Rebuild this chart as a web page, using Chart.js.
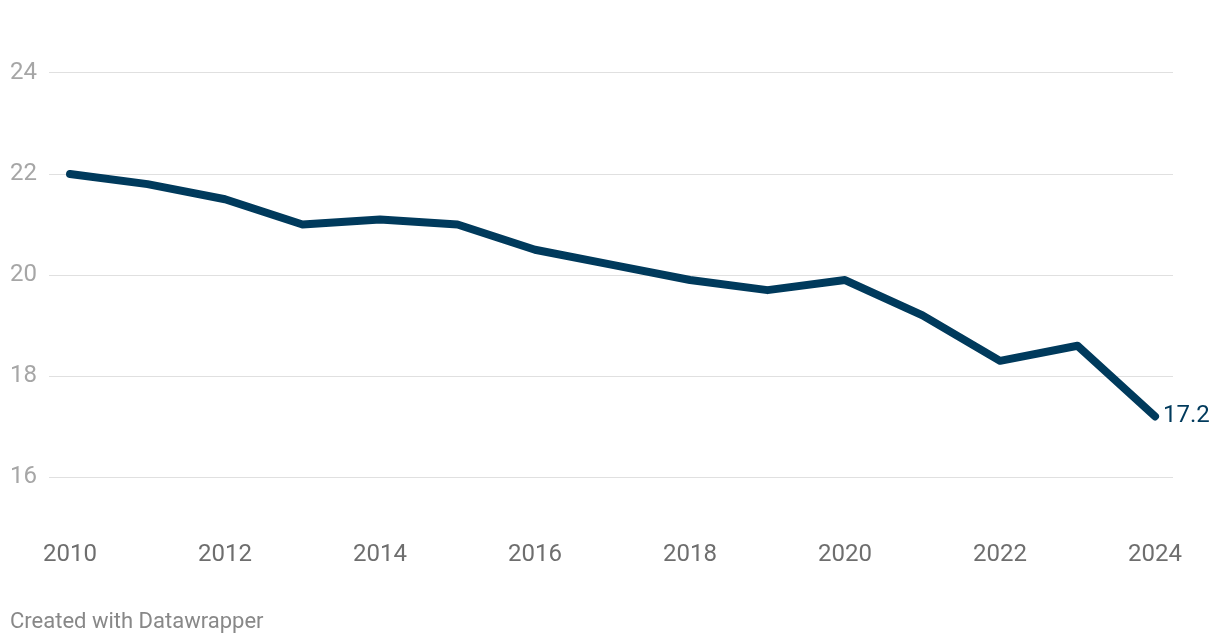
<!DOCTYPE html>
<html>
<head>
<meta charset="utf-8">
<script src="https://cdn.jsdelivr.net/npm/chart.js@4/dist/chart.umd.min.js"></script>
<style>
  html, body { margin: 0; padding: 0; background: #ffffff; }
  #wrap { width: 1220px; height: 644px; position: relative; }
</style>
</head>
<body>
<div id="wrap"><canvas id="c" width="1220" height="644"></canvas></div>
<script>
// ---- data ----
const years = [2010, 2011, 2012, 2013, 2014, 2015, 2016, 2017, 2018, 2019, 2020, 2021, 2022, 2023, 2024];
const values = [22.0, 21.8, 21.5, 21.0, 21.1, 21.0, 20.5, 20.2, 19.9, 19.7, 19.9, 19.2, 18.3, 18.6, 17.2];
const xTickLabels = [2010, 2012, 2014, 2016, 2018, 2020, 2022, 2024];
const yTickLabels = [16, 18, 20, 22, 24];
const footerText = 'Created with Datawrapper';

const lineColor = '#003a5c';
const fontFamily = 'Roboto, "Noto Sans", sans-serif';

const endLabelPlugin = {
  id: 'endLabel',
  afterDatasetsDraw(chart) {
    const ctx = chart.ctx;
    const meta = chart.getDatasetMeta(0);
    const last = meta.data[meta.data.length - 1];
    const v = values[values.length - 1];
    ctx.save();
    ctx.font = '24px ' + fontFamily;
    ctx.fillStyle = lineColor;
    ctx.textAlign = 'left';
    ctx.textBaseline = 'middle';
    ctx.fillText(v.toFixed(1), last.x + 8, last.y);
    ctx.restore();
  }
};

const footerPlugin = {
  id: 'footer',
  afterDraw(chart) {
    const ctx = chart.ctx;
    ctx.save();
    ctx.font = '22px ' + fontFamily;
    ctx.fillStyle = '#888888';
    ctx.textAlign = 'left';
    ctx.textBaseline = 'middle';
    ctx.fillText(footerText, 10, 622);
    ctx.restore();
  }
};

new Chart(document.getElementById('c'), {
  type: 'line',
  data: {
    datasets: [{
      data: years.map((y, i) => ({ x: y, y: values[i] })),
      borderColor: lineColor,
      borderWidth: 8,
      borderCapStyle: 'round',
      borderJoinStyle: 'round',
      pointRadius: 0,
      pointHoverRadius: 0,
      tension: 0,
      fill: false
    }]
  },
  options: {
    responsive: false,
    animation: false,
    devicePixelRatio: 1,
    layout: { padding: { left: 10, right: 47, top: 22.5, bottom: 66.5 } },
    plugins: { legend: { display: false }, tooltip: { enabled: false }, title: { display: false } },
    scales: {
      x: {
        type: 'linear',
        min: 2009.729,
        max: 2024.232,
        afterBuildTicks(scale) { scale.ticks = xTickLabels.map(v => ({ value: v })); },
        afterFit(scale) { scale.height = 50; },
        grid: { display: false, drawTicks: false },
        border: { display: false },
        ticks: {
          color: '#6e6e6e',
          font: { family: fontFamily, size: 24 },
          padding: 13,
          maxRotation: 0,
          autoSkip: false,
          callback: v => String(v)
        }
      },
      y: {
        type: 'linear',
        min: 15,
        max: 25,
        afterBuildTicks(scale) { scale.ticks = yTickLabels.map(v => ({ value: v })); },
        afterFit(scale) { scale.width = 39; },
        grid: { color: '#e0e0e0', lineWidth: 1, drawTicks: false },
        border: { display: false },
        ticks: {
          color: '#a6a6a6',
          font: { family: fontFamily, size: 24 },
          crossAlign: 'far',
          padding: 0,
          callback: v => String(v)
        }
      }
    }
  },
  plugins: [endLabelPlugin, footerPlugin]
});
</script>
</body>
</html>
